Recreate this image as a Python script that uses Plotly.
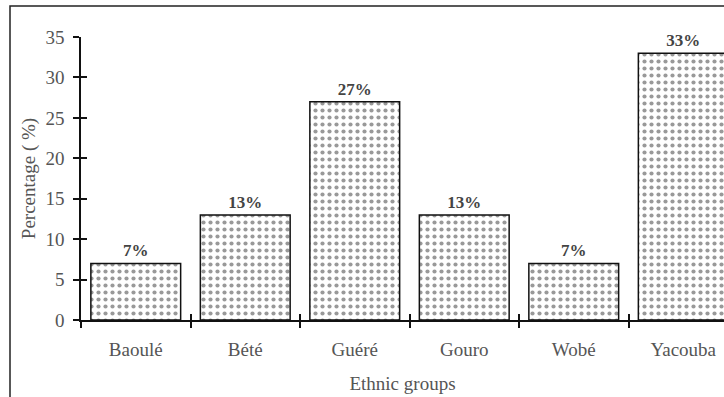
import plotly.graph_objects as go

# Share of respondents by ethnic group
groups = ["Baoulé", "Bété", "Guéré", "Gouro", "Wobé", "Yacouba"]
percent = [7, 13, 27, 13, 7, 33]
y_ticks = [0, 5, 10, 15, 20, 25, 30, 35]

FONT = "Times New Roman, Liberation Serif, Times, serif"
W, H = 724, 397
ML, MR, MT, MB = 81, 0, 37, 77

fig = go.Figure()
fig.add_trace(go.Bar(
    x=groups,
    y=percent,
    width=0.82,
    marker=dict(
        color="white",
        line=dict(color="#111", width=1.5),
        pattern=dict(shape=".", fgcolor="#333", bgcolor="white",
                     size=7, solidity=0.28),
    ),
    texttemplate="%{y}%",
    textposition="outside",
    textfont=dict(family=FONT, size=17, color="#444", weight="bold"),
    cliponaxis=False,
    hoverinfo="skip",
))

# invisible companion trace so the overlay axes carry inward tick marks
fig.add_trace(go.Scatter(x=groups, y=percent, xaxis="x2", yaxis="y2",
                         mode="markers", marker=dict(opacity=0),
                         hoverinfo="skip", showlegend=False))

x_range = [-0.5, -0.5 + (W - ML) / 109.5]


def tfont():
    return dict(family=FONT, size=19, color="#555")


fig.update_layout(
    width=W, height=H,
    margin=dict(l=ML, r=MR, t=MT, b=MB),
    paper_bgcolor="white", plot_bgcolor="white",
    font=dict(family=FONT, size=19, color="#555"),
    showlegend=False,
    bargap=0.18,
    xaxis=dict(
        range=x_range, showline=True, linecolor="#111", linewidth=1.5,
        ticks="outside", ticklen=6, tickwidth=1.5, tickcolor="#111",
        tickson="boundaries", tickfont=tfont(), ticklabelstandoff=11,
        showgrid=False, zeroline=False,
        title=dict(text="Ethnic groups", font=tfont(), standoff=18),
    ),
    yaxis=dict(
        range=[0, 35], tickvals=y_ticks, showline=True, linecolor="#111",
        linewidth=1.5, ticks="outside", ticklen=6, tickwidth=1.5,
        tickcolor="#111", tickfont=tfont(), ticklabelstandoff=5,
        showgrid=False, zeroline=False,
        title=dict(text="Percentage ( %)", font=tfont(), standoff=5),
    ),
    xaxis2=dict(overlaying="x", matches="x", range=x_range,
                ticks="inside", ticklen=6, tickwidth=1.5, tickcolor="#111",
                tickson="boundaries", showticklabels=False, showgrid=False,
                zeroline=False, side="bottom", categoryarray=groups),
    yaxis2=dict(overlaying="y", range=[0, 35], tickvals=y_ticks,
                ticks="inside", ticklen=6, tickwidth=1.5, tickcolor="#111",
                showticklabels=False, showgrid=False, zeroline=False,
                side="left"),
)

# outer frame around the chart
pw, ph = W - ML - MR, H - MT - MB
fig.add_shape(type="rect", xref="paper", yref="paper", layer="above",
              x0=(10 - ML) / pw, x1=(W + 20 - ML) / pw,
              y0=-(H + 20 - (H - MB)) / ph, y1=((H - MB) - 6) / ph,
              line=dict(color="#222", width=1.5), fillcolor="rgba(0,0,0,0)")

fig.write_html("out.html")
